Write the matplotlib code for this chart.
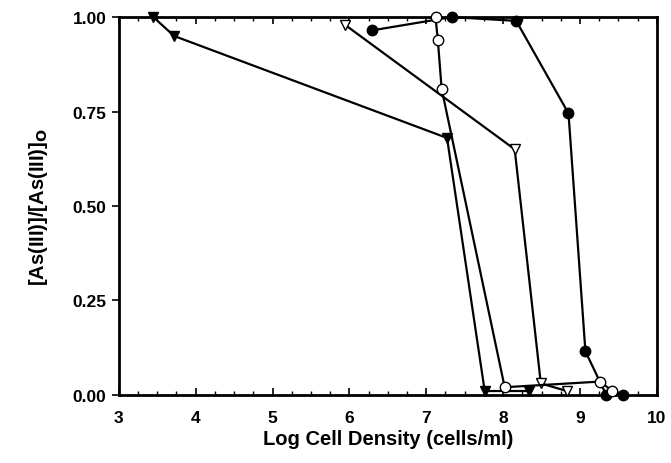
import numpy as np
import matplotlib.pyplot as plt
from matplotlib.ticker import MultipleLocator

plt.rcParams.update({
    "font.family": ["Liberation Sans", "DejaVu Sans"],
    "font.weight": "bold",
    "mathtext.default": "bf",
})

# filled down-triangles
tri_f_x = [3.45, 3.72, 7.27, 7.76, 8.33]
tri_f_y = [1.00, 0.95, 0.68, 0.01, 0.01]

# open down-triangles
tri_o_x = [5.94, 8.15, 8.49, 8.83]
tri_o_y = [0.98, 0.65, 0.03, 0.01]

# open circles
circ_o_x = [7.12, 7.15, 7.20, 8.02, 9.26, 9.42]
circ_o_y = [1.00, 0.94, 0.81, 0.02, 0.035, 0.01]

# filled circles
circ_f_x = [6.30, 7.33, 8.17, 8.85, 9.07, 9.34, 9.56]
circ_f_y = [0.965, 1.00, 0.99, 0.745, 0.115, 0.00, 0.00]

xticks = [3, 4, 5, 6, 7, 8, 9, 10]
yticks = [0.0, 0.25, 0.5, 0.75, 1.0]


def plot(plot_file):
    fig = plt.figure(figsize=(6.71, 4.64), dpi=100)
    ax = fig.add_axes([0.177, 0.147, 0.802, 0.814])

    kw = dict(color="black", linewidth=1.6, markersize=7.5, clip_on=False)
    ax.plot(tri_f_x, tri_f_y, marker="v", markerfacecolor="black", zorder=3, **kw)
    ax.plot(tri_o_x, tri_o_y, marker="v", markerfacecolor="white", zorder=3, **kw)
    ax.plot(circ_f_x, circ_f_y, marker="o", markerfacecolor="black", zorder=4, **kw)
    ax.plot(circ_o_x, circ_o_y, marker="o", markerfacecolor="white", zorder=5, **kw)

    ax.set_xlim(3, 10)
    ax.set_ylim(0, 1)
    ax.set_xticks(xticks)
    ax.set_yticks(yticks)
    ax.set_yticklabels(["%.2f" % v for v in yticks])
    ax.xaxis.set_minor_locator(MultipleLocator(0.25))

    for s in ax.spines.values():
        s.set_linewidth(2.0)

    ax.tick_params(axis="x", which="major", direction="in", length=5, width=1.2,
                   top=True, labelsize=12.5, pad=11)
    ax.tick_params(axis="x", which="minor", direction="in", length=3, width=1.0, top=True)
    ax.tick_params(axis="y", which="major", direction="out", length=5, width=1.2,
                   labelsize=12.5, pad=4)

    ax.set_xlabel("Log Cell Density (cells/ml)", fontsize=14.5, fontweight="bold", labelpad=3)
    ax.set_ylabel(r"[As(III)]/[As(III)]$_\mathbf{O}$", fontsize=14.5, fontweight="bold", labelpad=16)

    fig.savefig(plot_file, dpi=100)
    plt.close(fig)


plot("out.png")
